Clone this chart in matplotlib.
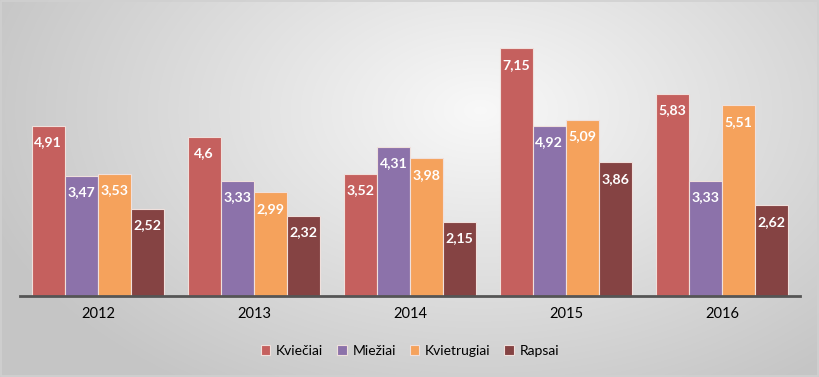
import numpy as np
import matplotlib
matplotlib.use("Agg")
import matplotlib.pyplot as plt

years = ["2012", "2013", "2014", "2015", "2016"]
series_names = ["Kviečiai", "Miežiai", "Kvietrugiai", "Rapsai"]
kvieciai = [4.91, 4.6, 3.52, 7.15, 5.83]
miezai = [3.47, 3.33, 4.31, 4.92, 3.33]
kvietrugiai = [3.53, 2.99, 3.98, 5.09, 5.51]
rapsai = [2.52, 2.32, 2.15, 3.86, 2.62]
labels = [["4,91", "4,6", "3,52", "7,15", "5,83"],
          ["3,47", "3,33", "4,31", "4,92", "3,33"],
          ["3,53", "2,99", "3,98", "5,09", "5,51"],
          ["2,52", "2,32", "2,15", "3,86", "2,62"]]
colors = ["#C5605E", "#8C72AA", "#F5A25C", "#854343"]

plt.rcParams['font.family'] = ['Lato', 'DejaVu Sans']

fig = plt.figure(figsize=(8.2, 3.77), dpi=100)

# background radial gradient
bg = fig.add_axes([0, 0, 1, 1], zorder=-10)
W, H = 820, 377
xx, yy = np.meshgrid(np.arange(W), np.arange(H))
cx, cy = 480, 110
d = np.sqrt(((xx - cx) / 520.0) ** 2 + ((yy - cy) / 330.0) ** 2)
d = np.clip(d, 0, 1)
val = 0.975 - 0.20 * d
img = np.dstack([val, val, val])
bg.imshow(img, aspect='auto', extent=[0, 1, 0, 1], origin='upper')
bg.set_xlim(0, 1); bg.set_ylim(0, 1)
bg.axis('off')
bg.add_patch(plt.Rectangle((0.001, 0.002), 0.997, 0.995, fill=False,
                           edgecolor="#D0D0D0", lw=1.2, transform=bg.transAxes))

ax = fig.add_axes([20 / 820, 1 - 296 / 377, 780 / 820, 277 / 377])
ax.patch.set_alpha(0)
x = np.arange(len(years))
bw = 0.213
data = [kvieciai, miezai, kvietrugiai, rapsai]
for i, (vals, c, name) in enumerate(zip(data, colors, series_names)):
    pos = x + (i - 1.5) * bw
    bars = ax.bar(pos, vals, width=bw, color=c, edgecolor="#F0E0DC", linewidth=0.8, label=name)
    for b, lab in zip(bars, labels[i]):
        ax.annotate(lab, (b.get_x() + b.get_width() / 2, b.get_height()),
                    xytext=(0, -7.5), textcoords='offset points', ha='center', va='top',
                    color='white', fontsize=10.2, fontweight='bold')

ax.set_xlim(-0.5, 4.5)
ax.set_ylim(0, 8)
ax.set_xticks(x)
ax.set_xticklabels(years, fontsize=10.5)
ax.tick_params(axis='x', length=0, pad=8)
ax.set_yticks([])
for s in ['top', 'right', 'left']:
    ax.spines[s].set_visible(False)
ax.spines['bottom'].set_color('#555555')
ax.spines['bottom'].set_linewidth(2)

leg = fig.legend(loc='center', bbox_to_anchor=(0.5, 1 - 351 / 377), ncol=4, frameon=False,
                 fontsize=10, handlelength=0.7, handleheight=0.7, handletextpad=0.4,
                 columnspacing=1.0)

fig.savefig("out.png", dpi=100)
